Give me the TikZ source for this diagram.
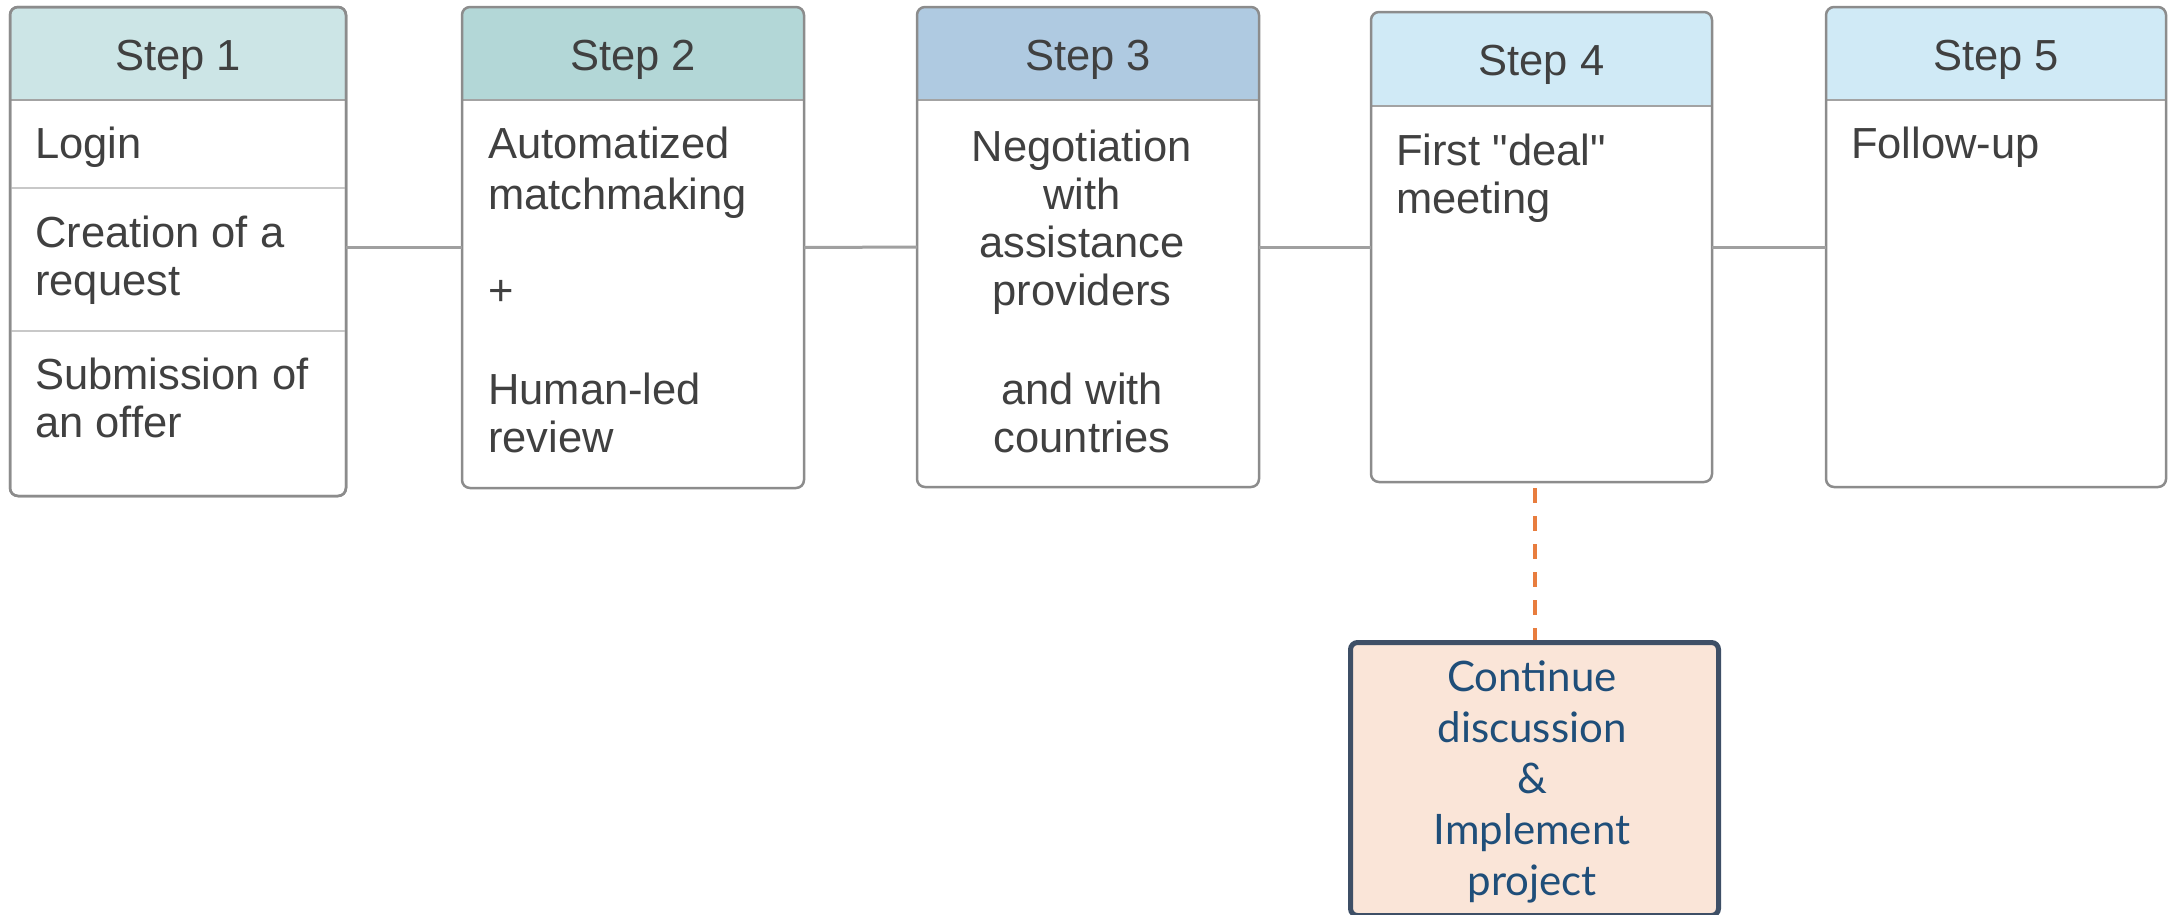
\documentclass[tikz,border=0pt]{standalone}
\usepackage{fontspec}
\setmainfont{Liberation Sans}
\newfontfamily\rawfont{Liberation Sans}
\newfontfamily\latofont{Lato}
\usetikzlibrary{calc}
\definecolor{txt}{HTML}{404040}
\definecolor{cardborder}{HTML}{8C8C8C}
\definecolor{divgray}{HTML}{C8C8C8}
\definecolor{conngray}{HTML}{A0A0A0}
\definecolor{hdrA}{HTML}{CCE5E6}
\definecolor{hdrB}{HTML}{B3D7D7}
\definecolor{hdrC}{HTML}{AFCAE1}
\definecolor{hdrD}{HTML}{D0EAF6}
\definecolor{dashorange}{HTML}{E87D3E}
\definecolor{botfill}{HTML}{FAE5D8}
\definecolor{botborder}{HTML}{3E4F66}
\definecolor{bottext}{HTML}{1F4E79}
\newcommand\stepcard[8]{%
  \node[card, minimum width=#4pt, minimum height=#5pt] (#1) at (#2,#3) {};
  \begin{scope}
    \clip[rounded corners=8pt] (#1.north west) rectangle (#1.south east);
    \fill[#7] (#1.north west) rectangle ([yshift=-#6pt]#1.north east);
  \end{scope}
  \draw[hdrline] ([yshift=-#6pt]#1.north west) -- ([yshift=-#6pt]#1.north east);
  \draw[cardline] (#1.north west) rectangle (#1.south east);
  \node[hdrtext] (#1h) at ([yshift=-63.5pt]#1.north) {#8};
}
\begin{document}
\begin{tikzpicture}[x=1pt,y=-1pt,
  card/.style={draw=none, fill=white, inner sep=0pt, outer sep=0pt, anchor=north west, rounded corners=8pt},
  cardline/.style={draw=cardborder, line width=2.5pt, rounded corners=8pt},
  hdrline/.style={draw=cardborder!80, line width=2pt},
  hdrtext/.style={font=\rawfont\fontsize{43.5}{48}\selectfont, text=txt, inner sep=0pt, anchor=base},
  body/.style={font=\rawfont\fontsize{43.5}{48}\selectfont, text=txt, inner sep=0pt, anchor=base west, align=left},
  bodyc/.style={font=\rawfont\fontsize{43.5}{48}\selectfont, text=txt, inner sep=0pt, anchor=base, align=center},
  divline/.style={draw=divgray, line width=2.5pt},
  conn/.style={draw=conngray, line width=3pt},
  dashconn/.style={draw=dashorange, line width=4pt, dash pattern=on 15pt off 13pt},
  botbox/.style={draw=botborder, fill=botfill, line width=5pt, rounded corners=7pt, inner sep=0pt, anchor=north west},
  bottxt/.style={font=\latofont\fontsize{42}{51}\selectfont, text=bottext, inner sep=0pt, anchor=base, align=center}
]
\useasboundingbox (0,0) rectangle (2170,914);

\stepcard{s1}{10}{7}{336}{489}{93}{hdrA}{Step 1}
\stepcard{s2}{462}{7}{342}{481}{93}{hdrB}{Step 2}
\stepcard{s3}{917}{7}{342}{480}{93}{hdrC}{Step 3}
\stepcard{s4}{1371}{12}{341}{470}{94}{hdrD}{Step 4}
\stepcard{s5}{1826}{7}{340}{480}{93}{hdrD}{Step 5}

% step 1 dividers and texts (multi-line nodes: base = last line)
\draw[divline] (s1.west |- 0,188) -- (s1.east |- 0,188);
\draw[divline] (s1.west |- 0,331) -- (s1.east |- 0,331);
\draw[cardline] (s1.north west) rectangle (s1.south east);
\node[body] (t1a) at (35,158) {Login};
\node[body] (t1b) at (35,295) {Creation of a\\request};
\node[body] (t1c) at (35,437) {Submission of\\an offer};

% step 2
\node[body, font=\rawfont\fontsize{43.5}{51}\selectfont] (t2a) at (488,209) {Automatized\\matchmaking};
\node[body] (t2b) at (488,305) {+};
\node[body] (t2c) at (488,452) {Human-led\\review};

% step 3
\node[bodyc] (t3a) at (1082,305) {Negotiation\\with\\assistance\\providers};
\node[bodyc] (t3b) at (1082,452) {and with\\countries};

% step 4
\node[body] (t4a) at (1396,213) {First "deal"\\meeting};

% step 5
\node[body] (t5a) at (1851,158) {Follow-up};

% connectors
\draw[conn] (s1.east |- s2.west) -- (s2.west);
\draw[conn] (s2.east) -- (s3.west);
\draw[conn] (s3.east |- s4.west) -- (s4.west);
\draw[conn] (s4.east |- s5.west) -- (s5.west);

% bottom box
\node[botbox, minimum width=368pt, minimum height=273pt] (bot) at (1348,640) {};
\node[bottxt] (bott) at (1532,895) {Continue\\discussion\\\&\\Implement\\project};
\draw[dashconn, shorten <=6pt] (s4.south -| bot.north) -- (bot.north);
\end{tikzpicture}
\end{document}
